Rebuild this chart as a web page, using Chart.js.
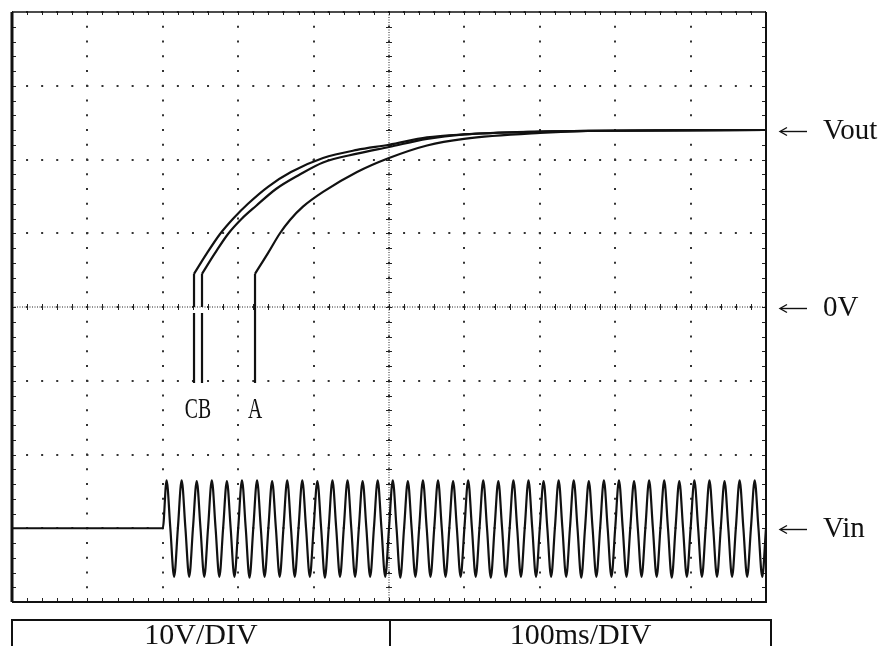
<!DOCTYPE html>
<html>
<head>
<meta charset="utf-8">
<script src="https://cdn.jsdelivr.net/npm/chart.js@4.4.0/dist/chart.umd.min.js"></script>
<style>
html, body { margin: 0; padding: 0; background: #fff; }
#wrap { width: 890px; height: 646px; position: relative; }
</style>
</head>
<body>
<div id="wrap"><canvas id="chart"></canvas></div>
<script>
// screen: 10 DIV of 100 ms across, 8 DIV of 10 V up, 0 V in the middle
const timeRange = [0, 1000];
const voltRange = [-40, 40];

// Vout traces (ms, V)
const curveC_t = [241.4, 258.6, 275.9, 294.4, 313.0, 339.5, 370.0, 412.5, 457.6, 500, 550.4, 599.5, 700.3, 779.8, 1000];
const curveC_v = [4.5, 7.3, 9.9, 12.1, 14.0, 16.3, 18.3, 20.2, 21.3, 22.0, 23.0, 23.4, 23.8, 23.9, 24.0];
const curveB_t = [252.0, 269.2, 286.5, 305.0, 323.6, 350.1, 380.6, 412.5, 457.6, 500, 550.4, 599.5, 700.3, 779.8, 1000];
const curveB_v = [4.5, 7.3, 9.9, 12.0, 13.7, 16.0, 17.9, 19.6, 20.8, 21.7, 22.8, 23.4, 23.8, 23.9, 24.0];
const curveA_t = [322.3, 339.5, 355.4, 368.7, 385.9, 412.5, 457.6, 500, 550.4, 599.5, 700.3, 779.8, 1000];
const curveA_v = [4.5, 7.3, 10.0, 11.8, 13.6, 15.6, 18.3, 20.2, 21.9, 22.8, 23.6, 23.9, 24.0];

// vertical steps at switch-on (C and B have a small break under 0 V)
const stemBottom = -10.3;
const stemBreak = -0.8;
const stemTop = 4.5;

// Vin trace: idle level, then 50 Hz sampled every 5 ms from 200 ms
const vinIdle = -30;
const vinStart = 200;
const vinStep = 5;
const vinValues = [
  -30, -23.5, -30, -36.6, -30, -23.5, -30, -36.6, -30, -23.6, -30, -36.6, -30, -23.5, -30, -36.6,
  -30, -23.6, -30, -36.6, -30, -23.5, -30, -36.7, -30, -23.5, -30, -36.6, -30, -23.6, -30, -36.6,
  -30, -23.5, -30, -36.6, -30, -23.5, -30, -36.6, -30, -23.6, -30, -36.7, -30, -23.5, -30, -36.6,
  -30, -23.5, -30, -36.6, -30, -23.6, -30, -36.6, -30, -23.5, -30, -36.6, -30, -23.5, -30, -36.7,
  -30, -23.6, -30, -36.6, -30, -23.5, -30, -36.6, -30, -23.5, -30, -36.6, -30, -23.6, -30, -36.6,
  -30, -23.5, -30, -36.6, -30, -23.5, -30, -36.7, -30, -23.6, -30, -36.6, -30, -23.5, -30, -36.6,
  -30, -23.5, -30, -36.6, -30, -23.6, -30, -36.6, -30, -23.5, -30, -36.6, -30, -23.5, -30, -36.7,
  -30, -23.6, -30, -36.6, -30, -23.5, -30, -36.6, -30, -23.5, -30, -36.6, -30, -23.6, -30, -36.6,
  -30, -23.5, -30, -36.6, -30, -23.5, -30, -36.7, -30, -23.6, -30, -36.6, -30, -23.5, -30, -36.6,
  -30, -23.5, -30, -36.6, -30, -23.6, -30, -36.6, -30, -23.5, -30, -36.6, -30, -23.5, -30, -36.6,
  -30
];

// labels
const sideLabels = ['Vout', '0V', 'Vin'];
const sideLevels = [24, 0, -30];
const stemLabelLevel = -15;
const boxLabels = ['10V/DIV', '100ms/DIV'];

const ink = '#111';
const pts = (ts, vs) => ts.map((t, i) => ({ x: t, y: vs[i] }));
const stem = (t, broken) => broken
    ? [{ x: t, y: stemBottom }, { x: t, y: stemBreak }, { x: t, y: null }, { x: t, y: 0 }, { x: t, y: stemTop }]
    : [{ x: t, y: stemBottom }, { x: t, y: stemTop }];

const vinData = [{ x: timeRange[0], y: vinIdle }]
    .concat(vinValues.map((v, i) => ({ x: vinStart + i * vinStep, y: v })));

const traceStyle = { borderColor: ink, borderWidth: 2.2, pointRadius: 0, fill: false };

const graticule = {
    id: 'graticule',
    beforeDatasetsDraw(chart) {
        const { ctx, chartArea: a, scales: { x, y } } = chart;
        const xc = x.getPixelForValue(500), yc = y.getPixelForValue(0);
        ctx.save();
        ctx.strokeStyle = '#222';
        // centre lines, fine dotted
        ctx.lineWidth = 1;
        ctx.setLineDash([1, 1.5]);
        ctx.beginPath();
        ctx.moveTo(a.left, yc); ctx.lineTo(a.right, yc);
        ctx.moveTo(xc, a.top); ctx.lineTo(xc, a.bottom);
        ctx.stroke();
        ctx.setLineDash([]);
        // small marks every 0.2 DIV on centre lines and frame
        ctx.beginPath();
        for (let t = 20; t < 1000; t += 20) {
            const px = Math.round(x.getPixelForValue(t)) + 0.5;
            ctx.moveTo(px, yc - 3); ctx.lineTo(px, yc + 3);
            ctx.moveTo(px, a.bottom); ctx.lineTo(px, a.bottom - 4);
            ctx.moveTo(px, a.top); ctx.lineTo(px, a.top + 3);
        }
        for (let v = -38; v < 40; v += 2) {
            const py = Math.round(y.getPixelForValue(v)) + 0.5;
            ctx.moveTo(xc - 3, py); ctx.lineTo(xc + 3, py);
            ctx.moveTo(a.left, py); ctx.lineTo(a.left + 4, py);
            ctx.moveTo(a.right, py); ctx.lineTo(a.right - 4, py);
        }
        ctx.stroke();
        // frame
        ctx.strokeStyle = ink;
        ctx.lineWidth = 1.5;
        ctx.beginPath();
        ctx.moveTo(a.left, a.top); ctx.lineTo(a.right, a.top);
        ctx.stroke();
        ctx.lineWidth = 2;
        ctx.beginPath();
        ctx.moveTo(a.right, a.top); ctx.lineTo(a.right, a.bottom); ctx.lineTo(a.left, a.bottom);
        ctx.stroke();
        ctx.lineWidth = 3;
        ctx.beginPath();
        ctx.moveTo(a.left, a.top); ctx.lineTo(a.left, a.bottom);
        ctx.stroke();
        ctx.restore();
    },
    afterDraw(chart) {
        const { ctx, chartArea: a, scales: { x, y } } = chart;
        ctx.save();
        ctx.fillStyle = ink;
        ctx.strokeStyle = ink;
        const serif = '"Liberation Serif", "Times New Roman", serif';

        // right side markers: long thin arrow + name
        ctx.font = '29px ' + serif;
        ctx.textBaseline = 'middle';
        ctx.textAlign = 'left';
        sideLabels.forEach((lab, i) => {
            const py = Math.round(y.getPixelForValue(sideLevels[i])) + 1.5;
            const x0 = a.right + 14, x1 = a.right + 41;
            ctx.lineWidth = 1.4;
            ctx.beginPath();
            ctx.moveTo(x0 + 1, py); ctx.lineTo(x1, py);
            ctx.stroke();
            ctx.beginPath();
            ctx.moveTo(x0 + 7, py - 4); ctx.lineTo(x0, py); ctx.lineTo(x0 + 7, py + 4);
            ctx.stroke();
            ctx.fillText(lab, a.right + 57, py);
        });

        // trace names under the switch-on steps (narrow lettering)
        const ly = y.getPixelForValue(stemLabelLevel);
        ctx.font = '29px ' + serif;
        ctx.textBaseline = 'alphabetic';
        ctx.textAlign = 'center';
        const cbX = (x.getPixelForValue(curveC_t[0]) + x.getPixelForValue(curveB_t[0])) / 2;
        const aX = x.getPixelForValue(curveA_t[0]);
        [['CB', cbX], ['A', aX]].forEach(([txt, px]) => {
            ctx.save();
            ctx.translate(px, ly);
            ctx.scale(0.68, 1);
            ctx.fillText(txt, 0, 0);
            ctx.restore();
        });

        // settings box under the screen
        const top = a.bottom + 18, left = a.left, right = a.right + 5;
        const mid = x.getPixelForValue(500) + 1;
        ctx.lineWidth = 2;
        ctx.beginPath();
        ctx.moveTo(left, chart.height + 5); ctx.lineTo(left, top);
        ctx.lineTo(right, top); ctx.lineTo(right, chart.height + 5);
        ctx.moveTo(mid, top); ctx.lineTo(mid, chart.height + 5);
        ctx.stroke();
        ctx.font = '30px ' + serif;
        ctx.textAlign = 'center';
        ctx.fillText(boxLabels[0], (left + mid) / 2, chart.height - 2);
        ctx.fillText(boxLabels[1], (mid + right) / 2, chart.height - 2);
        ctx.restore();
    }
};

const ctx = document.getElementById('chart').getContext('2d');
const chart = new Chart(ctx, {
    type: 'line',
    data: {
        datasets: [
            { label: 'Vin', data: vinData, cubicInterpolationMode: 'monotone', ...traceStyle },
            { label: 'C step', data: stem(curveC_t[0], true), tension: 0, spanGaps: false, ...traceStyle },
            { label: 'C', data: pts(curveC_t, curveC_v), cubicInterpolationMode: 'monotone', ...traceStyle },
            { label: 'B step', data: stem(curveB_t[0], true), tension: 0, spanGaps: false, ...traceStyle },
            { label: 'B', data: pts(curveB_t, curveB_v), cubicInterpolationMode: 'monotone', ...traceStyle },
            { label: 'A step', data: stem(curveA_t[0], false), tension: 0, ...traceStyle },
            { label: 'A', data: pts(curveA_t, curveA_v), cubicInterpolationMode: 'monotone', ...traceStyle }
        ]
    },
    options: {
        responsive: true,
        maintainAspectRatio: false,
        animation: false,
        layout: { padding: { left: 12, top: 12, right: 124, bottom: 44 } },
        plugins: { legend: { display: false }, tooltip: { enabled: false } },
        scales: {
            x: {
                type: 'linear', min: timeRange[0], max: timeRange[1],
                ticks: { display: false, stepSize: 100 },
                grid: { color: '#333', lineWidth: 2, drawTicks: false },
                border: { display: false, dash: [2, 12.75], dashOffset: 1 }
            },
            y: {
                type: 'linear', min: voltRange[0], max: voltRange[1],
                ticks: { display: false, stepSize: 10 },
                grid: { color: '#333', lineWidth: 2, drawTicks: false },
                border: { display: false, dash: [2, 13.08], dashOffset: 1 }
            }
        }
    },
    plugins: [graticule]
});
</script>
</body>
</html>
